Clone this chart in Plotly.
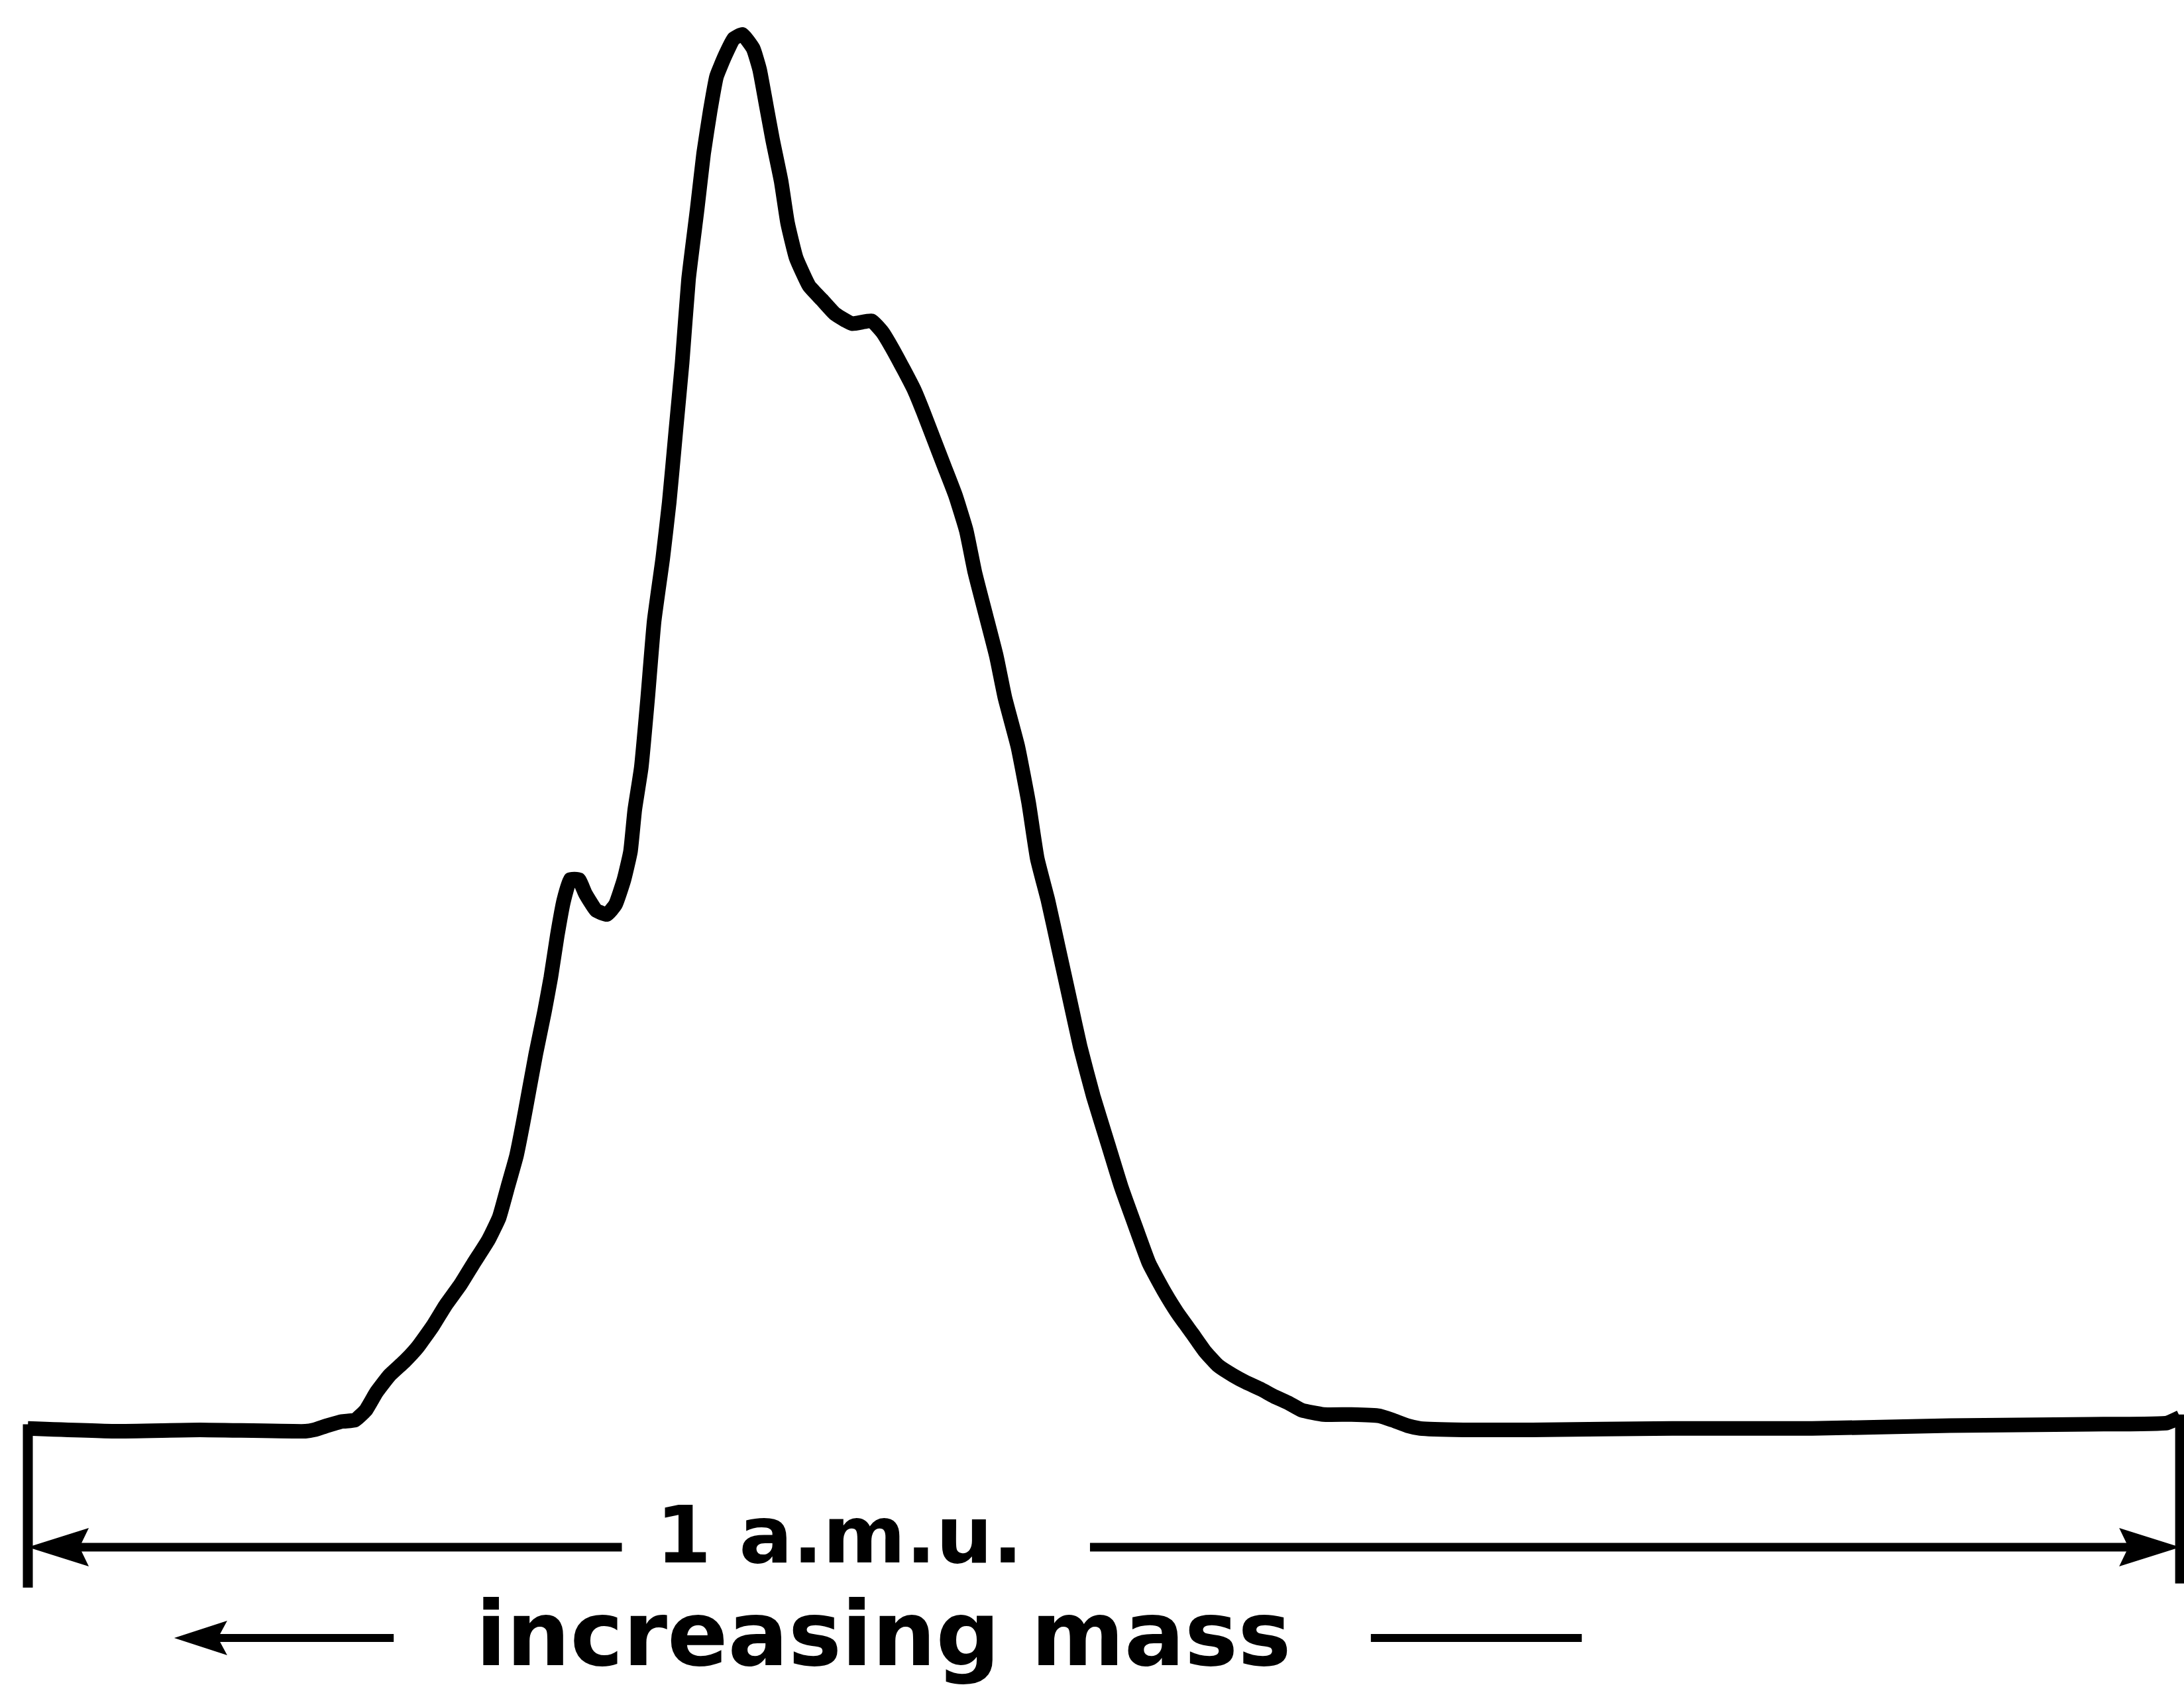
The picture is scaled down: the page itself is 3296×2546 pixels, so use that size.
import plotly.graph_objects as go

# Scan position (thousandths of 1 a.m.u.; 0 = left mark, 1000 = right mark)
position = [0, 40, 80, 129, 133, 139, 146, 152, 157, 162, 168, 175, 181, 188, 194,
            201, 207, 214, 219, 223, 227, 230, 233, 236, 240, 243, 246, 249, 252, 256,
            259, 264, 269, 273, 277, 280, 282, 285, 288, 291, 295, 298, 301, 304, 307,
            311, 314, 317, 320, 324, 328, 332, 337, 340, 343, 346, 350, 353, 357, 363,
            369, 375, 383, 392, 397, 401, 407, 412, 416, 421, 426, 431, 436, 440, 445,
            450, 454, 460, 465, 469, 474, 479, 484, 489, 495, 502, 508, 515, 521, 528,
            534, 541, 547, 553, 560, 566, 573, 579, 586, 592, 602, 615, 628, 634, 641,
            647, 667, 699, 764, 829, 893, 958, 994, 1000]

# Relative intensity (% of main peak), one value per position
intensity = [0.2, 0.0, 0.1, 0.0, 0.1, 0.4, 0.7, 0.8, 1.5, 2.8, 4.0, 5.0, 6.0, 7.5, 9.0,
             10.5, 12.0, 13.7, 15.3, 17.5, 19.7, 22.0, 24.5, 27.0, 30.0, 32.5, 35.5, 38.0, 39.5, 39.5,
             38.5, 37.3, 37.0, 37.7, 39.5, 41.5, 44.5, 47.5, 52.5, 58.0, 62.5, 66.5, 71.5, 76.5, 82.5,
             87.5, 91.5, 94.5, 97.0, 98.5, 99.7, 100.0, 99.0, 97.5, 95.0, 92.5, 89.5, 86.5, 84.0, 82.0,
             81.0, 80.0, 79.3, 79.5, 78.7, 77.7, 76.0, 74.5, 73.0, 71.0, 69.0, 67.0, 64.5, 61.5, 58.5,
             55.5, 52.5, 49.0, 45.0, 41.0, 38.0, 34.5, 31.0, 27.5, 24.0, 20.5, 17.5, 14.5, 12.0, 10.0,
             8.5, 7.0, 5.7, 4.7, 4.0, 3.5, 3.0, 2.5, 2.0, 1.5, 1.2, 1.2, 1.1, 0.8, 0.4,
             0.2, 0.1, 0.1, 0.2, 0.2, 0.4, 0.5, 0.6, 1.0]

scale_label = "1 a.m.u."
direction_label = "increasing mass"

INK = "#000000"
FONT = "DejaVu Sans"

W, H = 3296, 2546
X_RANGE = [-12.93, 1001.8]
Y_RANGE = [-18.31, 102.47]
PX_X = W / (X_RANGE[1] - X_RANGE[0])   # pixels per x unit
PX_Y = H / (Y_RANGE[1] - Y_RANGE[0])   # pixels per y unit

# annotation geometry (data units)
SCALE_Y = -8.3
SCALE_TEXT_Y = -7.42
DIR_Y = -14.8
DIR_TEXT_Y = -14.53


def head(xt, yt, direction, length_px=92, half_px=29, notch_px=14):
    """filled arrow head with its tip at (xt, yt); direction -1 = left, +1 = right"""
    L = length_px / PX_X
    Hh = half_px / PX_Y
    N = notch_px / PX_X
    bx = xt - direction * L
    nx = bx + direction * N
    return dict(type="path", xref="x", yref="y",
                path=f"M {xt},{yt} L {bx},{yt + Hh} L {nx},{yt} L {bx},{yt - Hh} Z",
                fillcolor=INK, line=dict(width=0))


def hline(x0, x1, y, w=13):
    return dict(type="line", xref="x", yref="y", x0=x0, x1=x1, y0=y, y1=y,
                line=dict(color=INK, width=w))


def vline(x, y0, y1, w=15):
    return dict(type="line", xref="x", yref="y", x0=x, x1=x, y0=y0, y1=y1,
                line=dict(color=INK, width=w))


fig = go.Figure()
fig.add_trace(go.Scatter(x=position, y=intensity, mode="lines",
                         line=dict(color=INK, width=22, shape="spline", smoothing=0.4),
                         hoverinfo="skip", showlegend=False))

shapes = [
    vline(0, 0.5, -11.2),
    vline(1000, 1.2, -10.9),
    hline(10, 276, SCALE_Y),
    hline(493.5, 990, SCALE_Y),
    head(0, SCALE_Y, -1),
    head(1000, SCALE_Y, 1),
    hline(80, 170, DIR_Y, 12),
    head(68, DIR_Y, -1, 80, 26),
    hline(624, 722, DIR_Y, 12),
]

annotations = [
    dict(x=377, y=SCALE_TEXT_Y, xref="x", yref="y", text=scale_label, showarrow=False,
         font=dict(family=FONT, size=120, color=INK, weight=700),
         xanchor="center", yanchor="middle", borderpad=0, borderwidth=0),
    dict(x=397.6, y=DIR_TEXT_Y, xref="x", yref="y", text=direction_label, showarrow=False,
         font=dict(family=FONT, size=135, color=INK, weight=700),
         xanchor="center", yanchor="middle", borderpad=0, borderwidth=0),
]

fig.update_layout(
    width=W, height=H,
    margin=dict(l=0, r=0, t=0, b=0, pad=0),
    paper_bgcolor="white", plot_bgcolor="white",
    xaxis=dict(range=X_RANGE, visible=False, fixedrange=True),
    yaxis=dict(range=Y_RANGE, visible=False, fixedrange=True),
    shapes=shapes, annotations=annotations,
)

fig.write_html("out.html")
